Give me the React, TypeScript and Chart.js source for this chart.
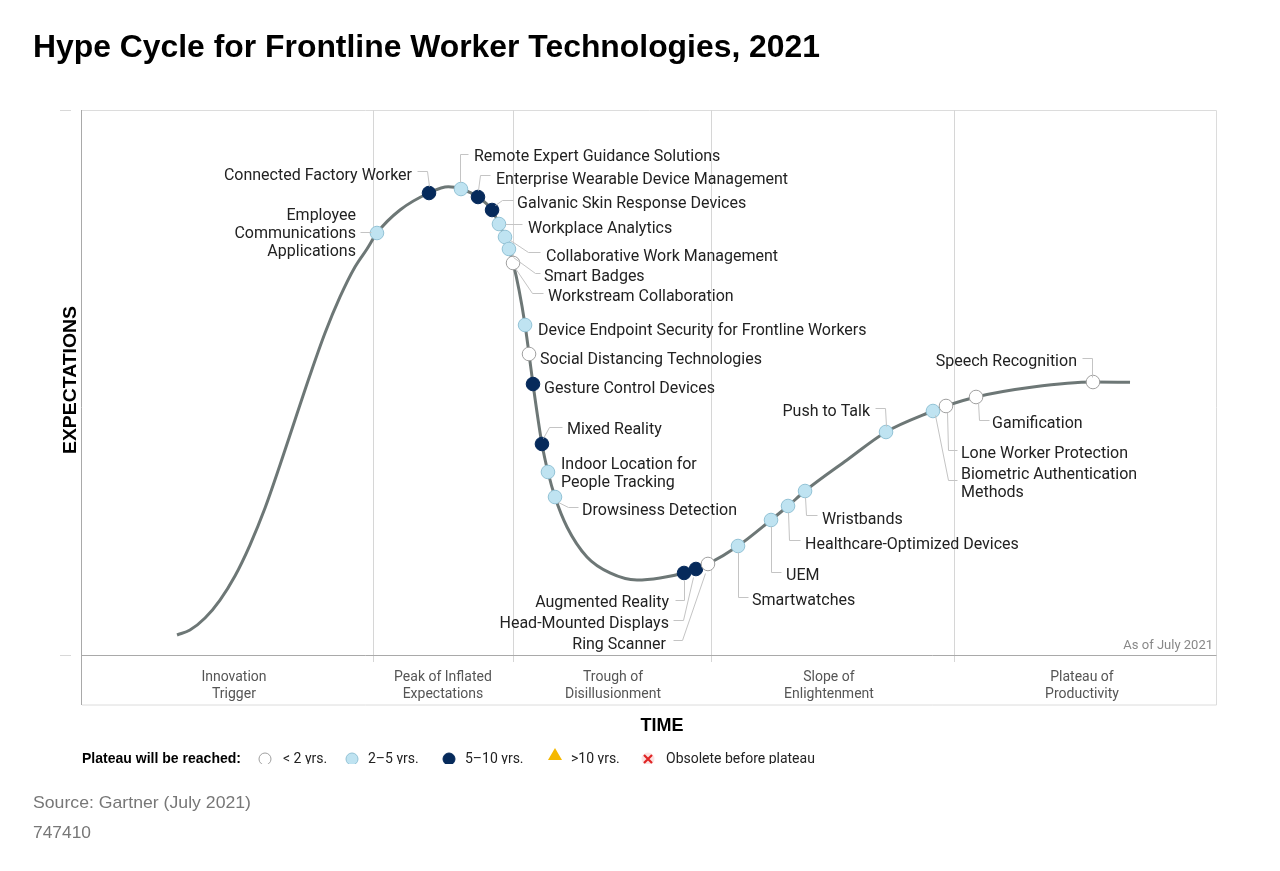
import { useEffect, useRef } from "react";
import { Chart, registerables } from "chart.js";

Chart.register(...registerables);

// ---------- DATA (time 0–100 across the plot, expectations 0–100 up the plot) ----------
const titleText = "Hype Cycle for Frontline Worker Technologies, 2021";

const curveX = [8.38, 9.52, 10.85, 12.17, 13.49, 14.81, 16.14, 17.46, 18.78, 20.11, 21.43, 22.75, 24.07, 25.13, 26.01, 28.04, 30.6, 32.3, 33.42, 34.92, 36.16, 36.77, 37.3, 37.65, 38.01, 38.54, 39.07, 39.42, 39.77, 40.56, 41.09, 41.71, 42.77, 44.53, 46.56, 48.94, 50.97, 53.09, 54.14, 55.2, 57.85, 60.76, 62.26, 63.76, 67.46, 70.9, 75.04, 76.19, 78.84, 83.86, 89.15, 92.42];
const curveY = [3.67, 4.59, 6.79, 10.09, 14.5, 20.18, 26.97, 34.86, 43.12, 51.38, 59.08, 65.69, 71.19, 74.5, 77.43, 81.65, 84.77, 85.9, 85.5, 84.04, 81.65, 79.08, 76.7, 74.5, 71.93, 66.97, 60.55, 55.23, 49.72, 38.72, 33.58, 28.99, 23.49, 17.98, 15.05, 13.76, 14.13, 15.05, 15.78, 16.7, 20.0, 24.77, 27.34, 30.09, 35.78, 40.92, 44.77, 45.69, 47.34, 49.17, 50.09, 50.05];

const techNames = [
  "Employee\nCommunications\nApplications",
  "Connected Factory Worker",
  "Remote Expert Guidance Solutions",
  "Enterprise Wearable Device Management",
  "Galvanic Skin Response Devices",
  "Workplace Analytics",
  "Collaborative Work Management",
  "Smart Badges",
  "Workstream Collaboration",
  "Device Endpoint Security for Frontline Workers",
  "Social Distancing Technologies",
  "Gesture Control Devices",
  "Mixed Reality",
  "Indoor Location for\nPeople Tracking",
  "Drowsiness Detection",
  "Augmented Reality",
  "Head-Mounted Displays",
  "Ring Scanner",
  "Smartwatches",
  "UEM",
  "Healthcare-Optimized Devices",
  "Wristbands",
  "Push to Talk",
  "Biometric Authentication\nMethods",
  "Lone Worker Protection",
  "Gamification",
  "Speech Recognition",
];
const techX = [26.01, 30.6, 33.42, 34.92, 36.16, 36.77, 37.3, 37.65, 38.01, 39.07, 39.42, 39.77, 40.56, 41.09, 41.71, 53.09, 54.14, 55.2, 57.85, 60.76, 62.26, 63.76, 70.9, 75.04, 76.19, 78.84, 89.15];
const techY = [77.43, 84.77, 85.5, 84.04, 81.65, 79.08, 76.7, 74.5, 71.93, 60.55, 55.23, 49.72, 38.72, 33.58, 28.99, 15.05, 15.78, 16.7, 20.0, 24.77, 27.34, 30.09, 40.92, 44.77, 45.69, 47.34, 50.09];
// years to plateau: 0 = <2, 1 = 2–5, 2 = 5–10, 3 = >10, 4 = obsolete
const techPlateau = [1, 2, 1, 2, 2, 1, 1, 1, 0, 1, 0, 2, 2, 1, 1, 2, 2, 0, 1, 1, 1, 1, 1, 1, 0, 0, 0];

const phaseBoundaries = [25.66, 38.01, 55.47, 76.9];
const phaseNames = ["Innovation\nTrigger", "Peak of Inflated\nExpectations", "Trough of\nDisillusionment", "Slope of\nEnlightenment", "Plateau of\nProductivity"];
const phaseLabelX = [13.4, 31.83, 46.83, 65.87, 88.18];

const legendTitle = "Plateau will be reached:";
const legendLabels = ["< 2 yrs.", "2–5 yrs.", "5–10 yrs.", ">10 yrs.", "Obsolete before plateau"];
const yAxisTitle = "EXPECTATIONS";
const xAxisTitle = "TIME";
const asOfText = "As of July 2021";
const sourceText = "Source: Gartner (July 2021)";
const docId = "747410";

// ---------- LAYOUT / STYLE ----------
type Layout = { align: "left" | "right"; dx: number; dy: number; leader: number[][] };
const labelLayout: Layout[] = [
  { align: "right", dx: -21, dy: -19, leader: [[-17, -1], [-6, -1]] },
  { align: "right", dx: -17, dy: -19, leader: [[-12, -22], [-2, -22], [0, -7]] },
  { align: "left", dx: 13, dy: -34, leader: [[-1, -7], [-1, -35], [7, -35]] },
  { align: "left", dx: 18, dy: -19, leader: [[0, -7], [2, -22], [12, -22]] },
  { align: "left", dx: 25, dy: -8, leader: [[3, -5], [10, -10], [21, -10]] },
  { align: "left", dx: 29, dy: 3, leader: [[6, 0], [23, 0]] },
  { align: "left", dx: 41, dy: 18, leader: [[5, 3], [23, 15], [35, 15]] },
  { align: "left", dx: 35, dy: 26, leader: [[4, 8], [26, 24], [31, 24]] },
  { align: "left", dx: 35, dy: 32, leader: [[2, 5], [19, 30], [30, 30]] },
  { align: "left", dx: 13, dy: 4, leader: [] },
  { align: "left", dx: 11, dy: 4, leader: [] },
  { align: "left", dx: 11, dy: 3, leader: [] },
  { align: "left", dx: 25, dy: -16, leader: [[1, -6], [7, -17], [20, -17]] },
  { align: "left", dx: 13, dy: -9, leader: [] },
  { align: "left", dx: 27, dy: 12, leader: [[3, 5], [13, 10], [23, 10]] },
  { align: "right", dx: -15, dy: 28, leader: [[0, 7], [0, 27], [-9, 27]] },
  { align: "right", dx: -27, dy: 53, leader: [[-3, 8], [-13, 51], [-23, 51]] },
  { align: "right", dx: -42, dy: 79, leader: [[-3, 9], [-26, 76], [-35, 76]] },
  { align: "left", dx: 14, dy: 53, leader: [[0, 6], [0, 51], [10, 51]] },
  { align: "left", dx: 15, dy: 54, leader: [[0, 6], [0, 52], [10, 52]] },
  { align: "left", dx: 17, dy: 37, leader: [[0, 6], [1, 34], [12, 34]] },
  { align: "left", dx: 17, dy: 27, leader: [[0, 6], [1, 24], [12, 24]] },
  { align: "right", dx: -16, dy: -22, leader: [[-11, -24], [-1, -24], [0, -6]] },
  { align: "left", dx: 28, dy: 62, leader: [[2, 4], [15, 69], [24, 69]] },
  { align: "left", dx: 15, dy: 46, leader: [[1, 6], [2, 44], [11, 44]] },
  { align: "left", dx: 16, dy: 25, leader: [[2, 5], [3, 23], [13, 23]] },
  { align: "right", dx: -16, dy: -22, leader: [[-1, -5], [-1, -24], [-11, -24]] },
];

const markerFill = ["#ffffff", "#bfe3f1", "#062a5b"];
const markerBorder = ["#a0a0a0", "#93c3d6", "#062a5b"];
const curveColor = "#6d7776";
const labelFont = "16px Roboto, 'Liberation Sans', sans-serif";
const labelColor = "#222222";
const labelTextShift = 2;

function drawScaledText(ctx: CanvasRenderingContext2D, text: string, x: number, y: number, targetWidth: number) {
  const w = ctx.measureText(text).width;
  ctx.save();
  ctx.translate(x, y);
  ctx.scale(targetWidth / w, 1);
  ctx.fillText(text, 0, 0);
  ctx.restore();
}

const decorPlugin = {
  id: "hypeDecor",
  beforeDraw(chart: any) {
    const ctx: CanvasRenderingContext2D = chart.ctx;
    const { left, right, top, bottom } = chart.chartArea;
    const xs = chart.scales.x;
    ctx.save();
    ctx.fillStyle = "#ffffff";
    ctx.fillRect(0, 0, chart.width, chart.height);

    // title
    ctx.fillStyle = "#000000";
    ctx.font = "bold 31px 'Liberation Sans', Arial, sans-serif";
    ctx.textAlign = "left";
    ctx.textBaseline = "alphabetic";
    drawScaledText(ctx, titleText, 33, 57, 787);

    // plot frame (top/right light)
    ctx.strokeStyle = "#dcdcdc";
    ctx.lineWidth = 1;
    ctx.beginPath();
    ctx.moveTo(left, top + 0.5);
    ctx.lineTo(right + 0.5, top + 0.5);
    ctx.lineTo(right + 0.5, bottom + 50);
    ctx.lineTo(left, bottom + 50);
    ctx.stroke();

    // y-axis tick marks
    ctx.strokeStyle = "#d8d8d8";
    ctx.beginPath();
    ctx.moveTo(60, top + 0.5);
    ctx.lineTo(71, top + 0.5);
    ctx.moveTo(60, bottom + 0.5);
    ctx.lineTo(71, bottom + 0.5);
    ctx.stroke();

    // phase separators
    ctx.strokeStyle = "#d6d6d6";
    ctx.beginPath();
    phaseBoundaries.forEach((b) => {
      const px = Math.round(xs.getPixelForValue(b)) + 0.5;
      ctx.moveTo(px, top);
      ctx.lineTo(px, bottom + 7);
    });
    ctx.stroke();

    // axis lines (left, bottom)
    ctx.strokeStyle = "#a9a9a9";
    ctx.beginPath();
    ctx.moveTo(left - 0.5, top);
    ctx.lineTo(left - 0.5, bottom + 50);
    ctx.moveTo(left - 0.5, bottom + 0.5);
    ctx.lineTo(right + 0.5, bottom + 0.5);
    ctx.stroke();

    // phase labels
    ctx.fillStyle = "#555555";
    ctx.font = "14px Roboto, 'Liberation Sans', sans-serif";
    ctx.textAlign = "center";
    ctx.textBaseline = "middle";
    phaseNames.forEach((n, i) => {
      const px = xs.getPixelForValue(phaseLabelX[i]);
      n.split("\n").forEach((line, j) => ctx.fillText(line, px, bottom + 22 + j * 17));
    });

    // "As of"
    ctx.fillStyle = "#888888";
    ctx.font = "13px Roboto, 'Liberation Sans', sans-serif";
    ctx.textAlign = "right";
    ctx.fillText(asOfText, right - 3, bottom - 9);

    // axis titles
    ctx.fillStyle = "#000000";
    ctx.font = "bold 18px 'Liberation Sans', Arial, sans-serif";
    ctx.textAlign = "center";
    ctx.fillText(xAxisTitle, 662, 726);
    ctx.save();
    ctx.translate(71, 380);
    ctx.rotate(-Math.PI / 2);
    ctx.font = "bold 19px 'Liberation Sans', Arial, sans-serif";
    ctx.textAlign = "left";
    const ew = ctx.measureText(yAxisTitle).width;
    ctx.scale(148 / ew, 1);
    ctx.fillText(yAxisTitle, -ew / 2, 0);
    ctx.restore();

    // legend (clipped at bottom like the reference)
    ctx.save();
    ctx.beginPath();
    ctx.rect(0, 740, chart.width, 24);
    ctx.clip();
    const ly = 759;
    ctx.textAlign = "left";
    ctx.textBaseline = "middle";
    ctx.fillStyle = "#000000";
    ctx.font = "bold 14px 'Liberation Sans', Arial, sans-serif";
    drawScaledText(ctx, legendTitle, 82, ly, 159);
    const symX = [265, 352, 449, 555, 648];
    const txtX = [283, 368, 465, 571, 666];
    for (let k = 0; k < 3; k++) {
      ctx.beginPath();
      ctx.arc(symX[k], ly, 6, 0, Math.PI * 2);
      ctx.fillStyle = markerFill[k];
      ctx.fill();
      ctx.strokeStyle = markerBorder[k];
      ctx.lineWidth = 1;
      ctx.stroke();
    }
    ctx.beginPath();
    ctx.moveTo(symX[3], ly - 11);
    ctx.lineTo(symX[3] + 7, ly + 1);
    ctx.lineTo(symX[3] - 7, ly + 1);
    ctx.closePath();
    ctx.fillStyle = "#f5b800";
    ctx.fill();
    ctx.beginPath();
    ctx.arc(symX[4], ly, 6.5, 0, Math.PI * 2);
    ctx.fillStyle = "#fbe3e3";
    ctx.fill();
    ctx.strokeStyle = "#e02424";
    ctx.lineWidth = 2.2;
    ctx.beginPath();
    ctx.moveTo(symX[4] - 4, ly - 4);
    ctx.lineTo(symX[4] + 4, ly + 4);
    ctx.moveTo(symX[4] + 4, ly - 4);
    ctx.lineTo(symX[4] - 4, ly + 4);
    ctx.stroke();
    ctx.fillStyle = "#222222";
    ctx.font = "14px Roboto, 'Liberation Sans', sans-serif";
    legendLabels.forEach((t, k) => ctx.fillText(t, txtX[k], ly));
    ctx.restore();

    // source
    ctx.fillStyle = "#777777";
    ctx.font = "17px 'Liberation Sans', Arial, sans-serif";
    ctx.textAlign = "left";
    ctx.textBaseline = "middle";
    drawScaledText(ctx, sourceText, 33, 803, 218);
    drawScaledText(ctx, docId, 33, 833, 58);
    ctx.restore();
  },
  afterDatasetsDraw(chart: any) {
    const ctx: CanvasRenderingContext2D = chart.ctx;
    const xs = chart.scales.x;
    const ys = chart.scales.y;
    ctx.save();
    ctx.strokeStyle = "#c4c4c4";
    ctx.lineWidth = 1;
    ctx.fillStyle = labelColor;
    ctx.font = labelFont;
    ctx.textBaseline = "middle";
    techNames.forEach((name, i) => {
      const px = xs.getPixelForValue(techX[i]);
      const py = ys.getPixelForValue(techY[i]);
      const L = labelLayout[i];
      if (L.leader.length) {
        ctx.beginPath();
        L.leader.forEach(([dx, dy], j) => {
          const X = Math.round(px + dx) + 0.5;
          const Y = Math.round(py + dy) + 0.5;
          if (j === 0) ctx.moveTo(X, Y);
          else ctx.lineTo(X, Y);
        });
        ctx.stroke();
      }
      ctx.textAlign = L.align;
      name.split("\n").forEach((line, j) => {
        ctx.fillText(line, px + L.dx, py + L.dy + labelTextShift + j * 18);
      });
    });
    ctx.restore();
  },
};

export default function App() {
  const ref = useRef<HTMLCanvasElement | null>(null);
  useEffect(() => {
    if (!ref.current) return;
    const pointSets = [0, 1, 2].map((cat) => ({
      type: "scatter" as const,
      label: legendLabels[cat],
      data: techX.map((x, i) => ({ x, y: techY[i], c: techPlateau[i] })).filter((p) => p.c === cat).map((p) => ({ x: p.x, y: p.y })),
      pointRadius: 6.8,
      pointHoverRadius: 6.8,
      pointBackgroundColor: markerFill[cat],
      pointBorderColor: markerBorder[cat],
      pointBorderWidth: 1,
      showLine: false,
      order: 0,
    }));
    const chart = new Chart(ref.current, {
      type: "line",
      data: {
        datasets: [
          {
            label: "curve",
            data: curveX.map((x, i) => ({ x, y: curveY[i] })),
            borderColor: curveColor,
            borderWidth: 3,
            pointRadius: 0,
            fill: false,
            cubicInterpolationMode: "monotone",
            order: 10,
          } as any,
          ...pointSets,
        ],
      },
      options: {
        animation: false,
        responsive: false,
        devicePixelRatio: 1,
        layout: { padding: { left: 82, top: 110, right: 64, bottom: 216 } },
        scales: {
          x: { type: "linear", min: 0, max: 100, display: false },
          y: { type: "linear", min: 0, max: 100, display: false },
        },
        plugins: { legend: { display: false }, tooltip: { enabled: false }, title: { display: false } },
        events: [],
      },
      plugins: [decorPlugin],
    });
    return () => chart.destroy();
  }, []);
  return (
    <div style={{ position: "fixed", left: 0, top: 0, width: 1280, height: 871, background: "#fff" }}>
      <canvas ref={ref} width={1280} height={871} style={{ width: 1280, height: 871, display: "block" }} />
    </div>
  );
}
